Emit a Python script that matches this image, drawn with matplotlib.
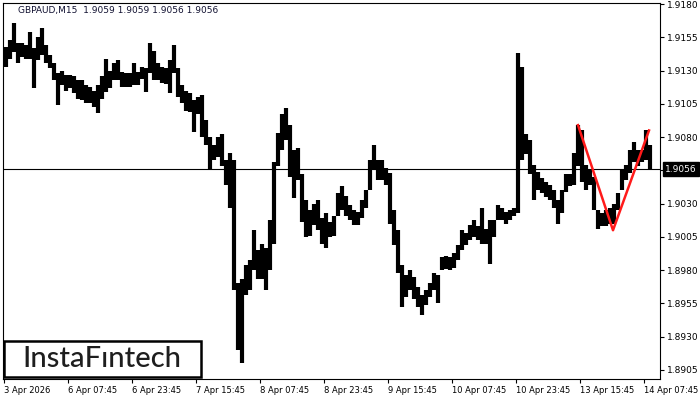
import numpy as np
import matplotlib.pyplot as plt
from matplotlib.patches import Rectangle
import matplotlib.transforms as mtransforms

hi = [1.9148, 1.9153, 1.9166, 1.9151, 1.9151, 1.9149, 1.9159, 1.9147, 1.9155, 1.9162,
      1.9149, 1.9142, 1.9136, 1.9128, 1.9130, 1.9127, 1.9127, 1.9126, 1.9123, 1.9123,
      1.9119, 1.9118, 1.9115, 1.9119, 1.9126, 1.9139, 1.9130, 1.9136, 1.9138, 1.9129,
      1.9128, 1.9128, 1.9136, 1.9129, 1.9133, 1.9132, 1.9151, 1.9145, 1.9136, 1.9133,
      1.9132, 1.9138, 1.9149, 1.9132, 1.9119, 1.9115, 1.9113, 1.9108, 1.9110, 1.9112,
      1.9093, 1.9080, 1.9074, 1.9080, 1.9082, 1.9063, 1.9068, 1.9063, 1.8970, 1.8973,
      1.8984, 1.8988, 1.9010, 1.8995, 1.9000, 1.8997, 1.9018, 1.9061, 1.9083, 1.9097,
      1.9102, 1.9089, 1.9070, 1.9072, 1.9052, 1.9033, 1.9025, 1.9030, 1.9033, 1.9019,
      1.9023, 1.9016, 1.9021, 1.9038, 1.9043, 1.9036, 1.9029, 1.9025, 1.9024, 1.9033,
      1.9040, 1.9063, 1.9074, 1.9063, 1.9063, 1.9057, 1.9053, 1.9025, 1.9010, 1.8984,
      1.8976, 1.8980, 1.8975, 1.8967, 1.8961, 1.8965, 1.8970, 1.8978, 1.8976, 1.8990,
      1.8991, 1.8990, 1.8993, 1.8999, 1.9010, 1.9008, 1.9014, 1.9018, 1.9013, 1.9027,
      1.9011, 1.9018, 1.9018, 1.9029, 1.9027, 1.9024, 1.9025, 1.9027, 1.9143, 1.9133,
      1.9082, 1.9078, 1.9059, 1.9054, 1.9049, 1.9046, 1.9044, 1.9040, 1.9033, 1.9040,
      1.9052, 1.9052, 1.9068, 1.9089, 1.9085, 1.9059, 1.9055, 1.9050, 1.9025, 1.9023,
      1.9025, 1.9027, 1.9030, 1.9038, 1.9055, 1.9059, 1.9070, 1.9076, 1.9070, 1.9070,
      1.9085, 1.9074]
lo = [1.9133, 1.9139, 1.9144, 1.9136, 1.9140, 1.9139, 1.9139, 1.9117, 1.9138, 1.9142,
      1.9136, 1.9132, 1.9123, 1.9104, 1.9119, 1.9115, 1.9117, 1.9113, 1.9109, 1.9108,
      1.9106, 1.9106, 1.9103, 1.9098, 1.9109, 1.9114, 1.9117, 1.9123, 1.9123, 1.9118,
      1.9118, 1.9118, 1.9119, 1.9119, 1.9124, 1.9114, 1.9128, 1.9123, 1.9123, 1.9121,
      1.9120, 1.9113, 1.9128, 1.9110, 1.9106, 1.9100, 1.9099, 1.9084, 1.9097, 1.9080,
      1.9074, 1.9055, 1.9063, 1.9065, 1.9058, 1.9044, 1.9027, 1.8965, 1.8920, 1.8910,
      1.8961, 1.8965, 1.8980, 1.8973, 1.8973, 1.8965, 1.8980, 1.9000, 1.9058, 1.9070,
      1.9078, 1.9050, 1.9034, 1.9048, 1.9016, 1.9005, 1.9006, 1.9014, 1.9010, 1.9000,
      1.8997, 1.9005, 1.9006, 1.9021, 1.9025, 1.9021, 1.9018, 1.9014, 1.9014, 1.9019,
      1.9027, 1.9040, 1.9055, 1.9048, 1.9048, 1.9044, 1.9015, 1.8999, 1.8978, 1.8952,
      1.8960, 1.8965, 1.8958, 1.8952, 1.8946, 1.8954, 1.8960, 1.8965, 1.8955, 1.8980,
      1.8981, 1.8980, 1.8982, 1.8988, 1.8995, 1.8999, 1.9003, 1.9005, 1.9003, 1.9000,
      1.9000, 1.8985, 1.9005, 1.9018, 1.9018, 1.9015, 1.9018, 1.9021, 1.9023, 1.9063,
      1.9067, 1.9052, 1.9033, 1.9040, 1.9038, 1.9035, 1.9033, 1.9027, 1.9015, 1.9023,
      1.9039, 1.9043, 1.9044, 1.9058, 1.9046, 1.9040, 1.9044, 1.9025, 1.9011, 1.9013,
      1.9013, 1.9015, 1.9015, 1.9025, 1.9040, 1.9048, 1.9053, 1.9061, 1.9058, 1.9061,
      1.9063, 1.9055]

last_price = 1.9056
header = "GBPAUD,M15  1.9059 1.9059 1.9056 1.9056"

# time axis labels, one every 64 bars (16 hours of M15)
time_labels = ['3 Apr 2026', '6 Apr 07:45', '6 Apr 23:45', '7 Apr 15:45', '8 Apr 07:45',
               '8 Apr 23:45', '9 Apr 15:45', '10 Apr 07:45', '10 Apr 23:45',
               '13 Apr 15:45', '14 Apr 07:45']
time_bars = [0, 64, 128, 192, 256, 320, 384, 448, 512, 576, 640]

# double bottom pattern pivots (bar number, price)
pattern_bars = [574, 609, 645]
pattern_prices = [1.9089, 1.9010, 1.9085]

price_ticks = [1.8905, 1.8930, 1.8955, 1.8980, 1.9005, 1.9030, 1.9055,
               1.9080, 1.9105, 1.9130, 1.9155, 1.9180]

fig = plt.figure(figsize=(7, 4), dpi=100)
ax = fig.add_axes([3 / 700, 21 / 400, 657 / 700, 376 / 400])

# each hour covers 4 bars
bar_x = np.arange(len(hi)) * 4 + 1.5
ax.axhline(last_price, color='black', lw=0.8, zorder=1)
ax.vlines(bar_x, lo, hi, color='black', lw=3.0, zorder=2)
ax.plot(pattern_bars, pattern_prices, color='#ff1a1a', lw=1.8, zorder=3)

ax.set_xlim(-1, 656)
ax.set_ylim(1.88982, 1.91808)

for s in ax.spines.values():
    s.set_color('black')
    s.set_linewidth(0.8)

ax.yaxis.tick_right()
ax.set_yticks(price_ticks)
ax.set_yticklabels([f"{p:.4f}" if p != 1.9055 else "" for p in price_ticks])
ax.tick_params(axis='y', direction='out', length=3, width=0.8, pad=2,
               labelsize=6.5, colors='black')
ax.set_xticks(time_bars)
ax.set_xticklabels(time_labels)
ax.tick_params(axis='x', direction='out', length=3, width=0.8, pad=2,
               labelsize=6.0, colors='black')
for lbl in ax.get_xticklabels():
    lbl.set_horizontalalignment('left')

# current price marker on the price scale
trans = mtransforms.blended_transform_factory(ax.transAxes, ax.transData)
ax.text(1.008, last_price, f"{last_price:.4f}", transform=trans, ha='left', va='center',
        fontsize=6.5, color='white',
        bbox=dict(boxstyle='square,pad=0.25', fc='black', ec='black'))

fig.text(18 / 700, 1 - 11 / 400, header, fontsize=6.5, va='center', color='#101030')

# logo box
fig.patches.append(Rectangle((4 / 700, 23 / 400), 197 / 700, 36 / 400,
                             transform=fig.transFigure, fc='white', ec='black',
                             lw=1.8, zorder=5))
fig.text(102 / 700, 41 / 400, "InstaF\u0131ntech", fontsize=21, family='Lato',
         weight='medium', color='#1e1e1e', ha='center', va='center', zorder=6)

fig.savefig('out.png', dpi=100)
